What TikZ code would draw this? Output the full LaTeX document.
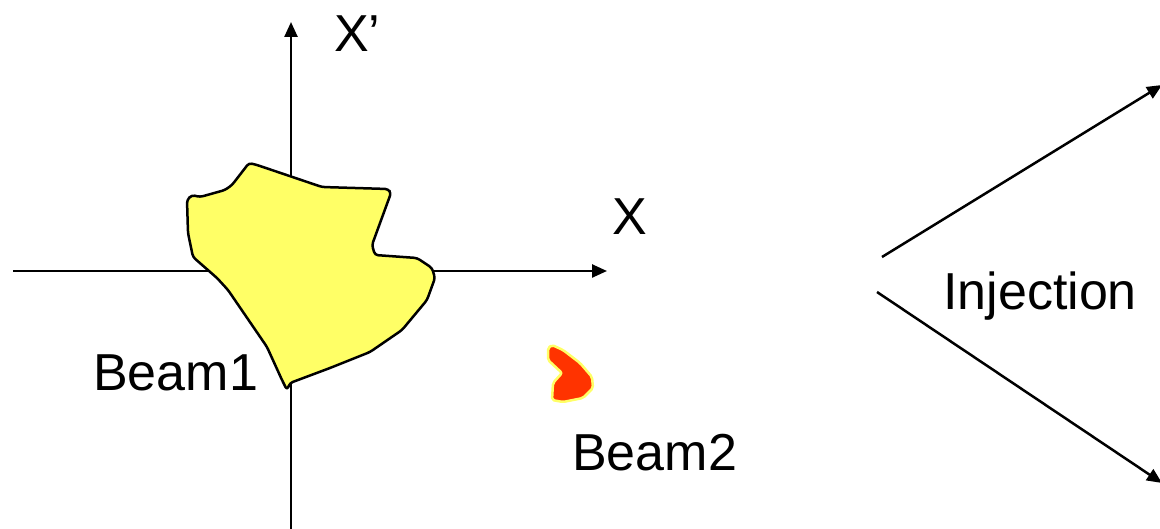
\documentclass[tikz,border=0pt]{standalone}
\usepackage{fontspec}
\setmainfont{Liberation Sans}
\usetikzlibrary{arrows.meta}
\begin{document}
\begin{tikzpicture}[x=1pt,y=-1pt,
  axis/.style={line width=2.5pt,-{Triangle[length=15pt,width=13pt]}},
  lbl/.style={inner sep=0pt,anchor=base west,font=\fontsize{52}{60}\selectfont},
  beamone/.style={fill={rgb,255:red,255;green,255;blue,102},draw=black,line width=2.5pt,line join=round,rounded corners=3pt},
  beamtwo/.style={fill={rgb,255:red,255;green,51;blue,0},draw={rgb,255:red,255;green,255;blue,102},line width=2.5pt,line join=round,rounded corners=2pt},
  inj/.style={line width=2.5pt,-{Triangle[length=15pt,width=13pt]}}]
\useasboundingbox (0,0) rectangle (1160,529);
% axes
\coordinate (xs) at (13,271);
\coordinate (xe) at (607,271);
\coordinate (ys) at (291,529);
\coordinate (ye) at (291,22);
\draw[axis] (xs) -- (xe);
\draw[axis] (ys) -- (ye);
% beams
\path[beamone] (187,200) -- (192,195) -- (200,197) -- (225,190) -- (232,185) -- (249,163) -- (257,165)
  -- (322,187) -- (388,189) -- (391,193) -- (372,245) -- (375,255) -- (417,258) -- (432,268)
  -- (435,278) -- (427,300) -- (402,330) -- (370,352) -- (330,368) -- (290,383) -- (287,390)
  -- (282,380) -- (267,347) -- (228,290) -- (217,278) -- (193,257) -- (188,233) -- cycle;
\path[beamtwo] (552,345) -- (548,348) -- (548,360) -- (562,373) -- (553,383) -- (552,400) -- (563,402)
  -- (583,398) -- (593,388) -- (592,377) -- (580,363) -- (563,350) -- cycle;
% labels
\node[lbl] (xp) at (334,52) {X’};
\node[lbl] (xl) at (612,235) {X};
\node[lbl] (b1) at (93,391) {Beam1};
\node[lbl] (b2) at (572,470) {Beam2};
\node[lbl] (injl) at (943,310) {Injection};
% injection arrows
\coordinate (u1) at (882,257);
\coordinate (u2) at (1162,85);
\coordinate (l1) at (877,292);
\coordinate (l2) at (1162,483);
\draw[inj] (u1) -- (u2);
\draw[inj] (l1) -- (l2);
\end{tikzpicture}
\end{document}
